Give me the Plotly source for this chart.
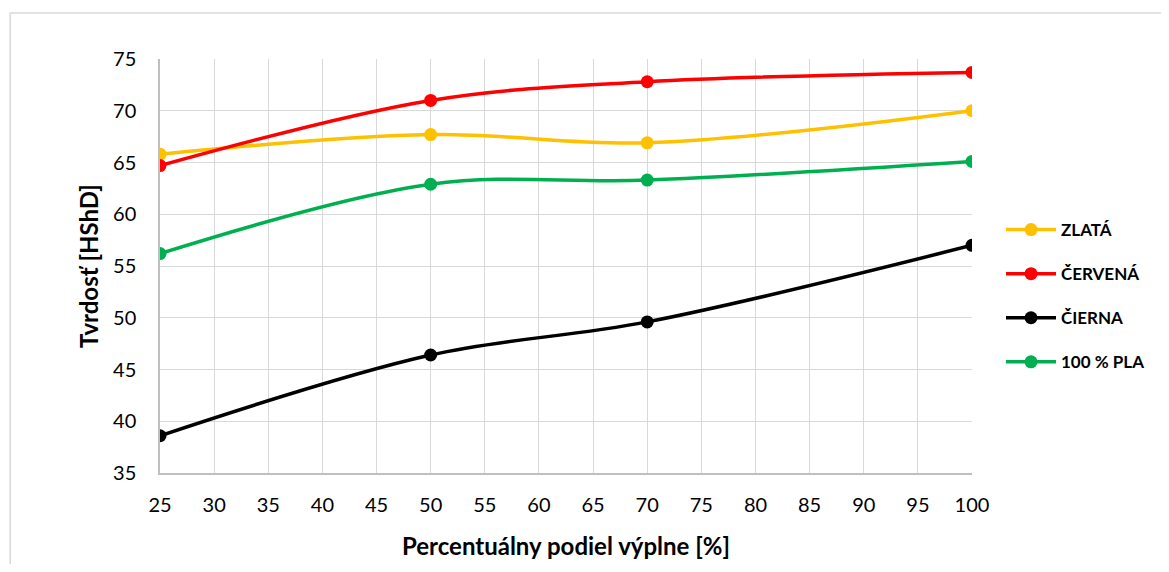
import plotly.graph_objects as go

x_vals = [25, 50, 70, 100]
zlata = [65.8, 67.7, 66.9, 70.0]
cervena = [64.7, 71.0, 72.8, 73.7]
cierna = [38.6, 46.4, 49.6, 57.0]
pla = [56.2, 62.9, 63.3, 65.1]

names = ["ZLATÁ", "ČERVENÁ", "ČIERNA", "100 % PLA"]
colors = ["#FFC000", "#FF0000", "#000000", "#00B050"]
series = [zlata, cervena, cierna, pla]

fig = go.Figure()
for i, (n, c, s) in enumerate(zip(names, colors, series)):
    fig.add_trace(go.Scatter(
        x=x_vals, y=s, name=n, mode="lines+markers",
        line=dict(color=c, width=3.5, shape="spline", smoothing=1.0),
        marker=dict(color=c, size=13),
        legendgroup=str(i),
    ))

# page coordinates of plot area (body has 8px margin)
OFF = 8
L, R, T, B = 160, 973, 59, 473
W, H = 1169 - 2 * OFF, 572 - 2 * OFF
pw, ph = R - L, B - T

fig.add_shape(type="rect", xref="paper", yref="paper",
              x0=(10 - L) / pw, x1=(1190 - L) / pw,
              y0=-(600 - B) / ph, y1=1 + (T - 13) / ph,
              line=dict(color="#D9D9D9", width=1.5), fillcolor="rgba(0,0,0,0)", layer="below")

fig.update_layout(
    width=W, height=H,
    margin=dict(l=L - OFF, r=W - (R - OFF), t=T - OFF, b=H - (B - OFF)),
    paper_bgcolor="white", plot_bgcolor="white",
    font=dict(family="Lato, Open Sans, sans-serif", color="#000000"),
    showlegend=True,
    legend=dict(x=(1001 - L) / pw, y=(B - 296) / ph, xanchor="left", yanchor="middle",
                font=dict(size=17, color="#000000", family="Lato, sans-serif", weight="bold"),
                tracegroupgap=19, traceorder="grouped", itemwidth=50),
    xaxis=dict(range=[25, 100], dtick=5, tick0=25, showgrid=True, gridcolor="#D9D9D9", gridwidth=1.3,
               showline=True, linecolor="#BFBFBF", linewidth=1.5, zeroline=False, automargin=False,
               ticks="", ticklabelstandoff=13, tickfont=dict(size=20),
               title=dict(text="<b>Percentuálny podiel výplne [%]</b>", font=dict(size=24), standoff=23)),
    yaxis=dict(range=[35, 75], dtick=5, tick0=35, showgrid=True, gridcolor="#D9D9D9", gridwidth=1.3,
               showline=True, linecolor="#BFBFBF", linewidth=1.5, zeroline=False, automargin=False,
               ticks="", ticklabelstandoff=18, tickfont=dict(size=20),
               title=dict(text="<b>Tvrdosť [HShD]</b>", font=dict(size=24), standoff=8)),
)

fig.write_html("out.html")
